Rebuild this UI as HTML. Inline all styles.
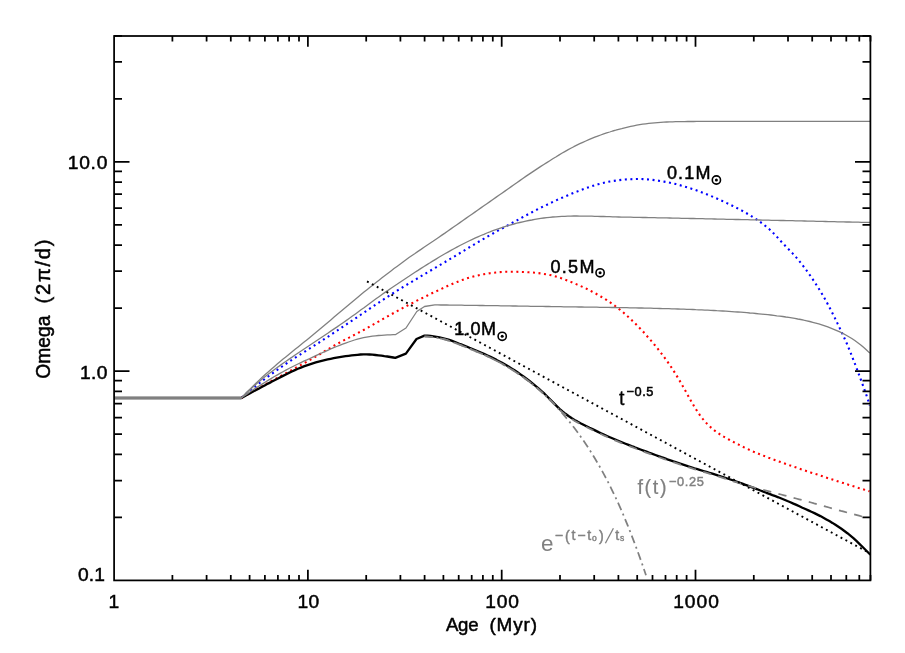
<!DOCTYPE html>
<html><head><meta charset="utf-8"><title>Omega vs Age</title>
<style>html,body{margin:0;padding:0;background:#fff;}svg{display:block;will-change:transform;}</style></head>
<body>
<svg width="905" height="653" viewBox="0 0 905 653" font-family="'Liberation Sans', sans-serif">
<rect width="905" height="653" fill="#fff"/>
<g fill="none" stroke-linejoin="round">
<path d="M114.1 398.0 L241.2 398.0 L244.2 395.5 L247.2 393.0 L250.2 390.5 L253.2 388.1 L256.2 385.7 L259.2 383.3 L262.2 381.0 L265.2 378.7 L268.2 376.5 L271.2 374.3 L274.2 372.1 L277.2 370.0 L280.2 367.8 L283.2 365.7 L286.2 363.7 L289.2 361.6 L292.2 359.6 L295.2 357.7 L298.2 355.8 L301.2 353.9 L304.2 352.0 L307.2 350.1 L310.2 348.2 L313.2 346.3 L316.2 344.4 L319.2 342.5 L322.1 340.5 L325.1 338.5 L328.1 336.6 L331.1 334.6 L334.1 332.6 L337.1 330.6 L340.1 328.6 L343.1 326.6 L346.1 324.6 L349.1 322.6 L352.1 320.6 L355.1 318.6 L358.1 316.6 L361.1 314.5 L364.1 312.5 L367.1 310.5 L370.1 308.4 L373.1 306.4 L376.1 304.4 L379.1 302.4 L382.1 300.4 L385.1 298.4 L388.1 296.5 L391.1 294.5 L394.1 292.6 L397.1 290.7 L400.1 288.9 L403.1 287.0 L406.1 285.2 L409.1 283.4 L412.1 281.6 L415.1 279.8 L418.1 278.0 L421.1 276.2 L424.1 274.4 L427.1 272.6 L430.1 270.8 L433.1 269.1 L436.1 267.3 L439.1 265.5 L442.1 263.7 L445.1 262.0 L448.1 260.2 L451.1 258.4 L454.1 256.6 L457.1 254.8 L460.1 253.0 L463.1 251.2 L466.1 249.4 L469.1 247.5 L472.1 245.7 L475.1 243.9 L478.0 242.2 L481.0 240.4 L484.0 238.7 L487.0 236.9 L490.0 235.2 L493.0 233.5 L496.0 231.8 L499.0 230.1 L502.0 228.5 L505.0 226.8 L508.0 225.2 L511.0 223.5 L514.0 221.9 L517.0 220.3 L520.0 218.6 L523.0 217.0 L526.0 215.4 L529.0 213.8 L532.0 212.2 L535.0 210.6 L538.0 209.1 L541.0 207.6 L544.0 206.1 L547.0 204.7 L550.0 203.2 L553.0 201.8 L556.0 200.4 L559.0 199.1 L562.0 197.8 L565.0 196.5 L568.0 195.2 L571.0 194.0 L574.0 192.7 L577.0 191.6 L580.0 190.4 L583.0 189.3 L586.0 188.2 L589.0 187.2 L592.0 186.2 L595.0 185.2 L598.0 184.3 L601.0 183.5 L604.0 182.8 L607.0 182.1 L610.0 181.5 L613.0 181.0 L616.0 180.6 L619.0 180.2 L622.0 179.8 L625.0 179.5 L628.0 179.3 L631.0 179.2 L634.0 179.1 L636.9 179.0 L639.9 179.0 L642.9 179.1 L645.9 179.3 L648.9 179.5 L651.9 179.8 L654.9 180.2 L657.9 180.6 L660.9 181.1 L663.9 181.6 L666.9 182.1 L669.9 182.7 L672.9 183.4 L675.9 184.1 L678.9 184.9 L681.9 185.7 L684.9 186.6 L687.9 187.5 L690.9 188.5 L693.9 189.5 L696.9 190.5 L699.9 191.6 L702.9 192.7 L705.9 193.9 L708.9 195.2 L711.9 196.4 L714.9 197.7 L717.9 199.0 L720.9 200.4 L723.9 201.7 L726.9 203.1 L729.9 204.5 L732.9 206.0 L735.9 207.5 L738.9 209.0 L741.9 210.6 L744.9 212.3 L747.9 214.0 L750.9 215.8 L753.9 217.7 L756.9 219.7 L759.9 221.8 L762.9 224.0 L765.9 226.3 L768.9 228.8 L771.9 231.6 L774.9 234.7 L777.9 237.9 L780.9 241.2 L783.9 244.4 L786.9 247.5 L789.9 250.5 L792.8 253.6 L795.8 256.9 L798.8 260.4 L801.8 264.2 L804.8 268.1 L807.8 272.2 L810.8 276.5 L813.8 280.9 L816.8 285.5 L819.8 290.2 L822.8 295.2 L825.8 300.5 L828.8 306.1 L831.8 311.9 L834.8 317.9 L837.8 324.1 L840.8 330.3 L843.8 336.8 L846.8 343.5 L849.8 350.7 L852.8 358.3 L855.8 366.1 L858.8 374.1 L861.8 382.3 L864.8 390.5 L867.8 399.3 L869.8 405.5" stroke="#0000ff" stroke-width="2.1" stroke-dasharray="2.0 3.55"/>
<path d="M114.1 398.0 L241.2 398.0 L244.2 396.3 L247.2 394.6 L250.2 392.9 L253.2 391.2 L256.2 389.5 L259.2 387.8 L262.2 386.2 L265.2 384.5 L268.2 382.9 L271.2 381.2 L274.2 379.6 L277.2 378.0 L280.2 376.4 L283.2 374.8 L286.1 373.1 L289.1 371.5 L292.1 369.8 L295.1 368.2 L298.1 366.5 L301.1 364.8 L304.1 363.2 L307.1 361.5 L310.1 359.8 L313.1 358.1 L316.1 356.3 L319.1 354.6 L322.1 352.8 L325.1 351.0 L328.1 349.2 L331.1 347.5 L334.1 345.7 L337.1 344.0 L340.1 342.3 L343.1 340.7 L346.1 339.1 L349.1 337.6 L352.1 336.0 L355.1 334.5 L358.1 332.9 L361.1 331.3 L364.1 329.7 L367.1 328.1 L370.1 326.4 L373.1 324.7 L376.0 323.0 L379.0 321.3 L382.0 319.6 L385.0 317.9 L388.0 316.2 L391.0 314.5 L394.0 312.8 L397.0 311.2 L400.0 309.5 L403.0 307.9 L406.0 306.3 L409.0 304.7 L412.0 303.2 L415.0 301.7 L418.0 300.1 L421.0 298.6 L424.0 297.2 L427.0 295.7 L430.0 294.2 L433.0 292.8 L436.0 291.4 L439.0 290.0 L442.0 288.6 L445.0 287.2 L448.0 285.8 L451.0 284.5 L454.0 283.2 L457.0 282.0 L460.0 280.8 L463.0 279.7 L465.9 278.7 L468.9 277.8 L471.9 276.9 L474.9 276.1 L477.9 275.4 L480.9 274.7 L483.9 274.2 L486.9 273.7 L489.9 273.2 L492.9 272.8 L495.9 272.5 L498.9 272.2 L501.9 272.0 L504.9 271.8 L507.9 271.8 L510.9 271.8 L513.9 271.8 L516.9 271.8 L519.9 271.9 L522.9 272.0 L525.9 272.1 L528.9 272.3 L531.9 272.5 L534.9 272.7 L537.9 273.1 L540.9 273.4 L543.9 273.9 L546.9 274.4 L549.9 275.0 L552.9 275.7 L555.8 276.5 L558.8 277.4 L561.8 278.4 L564.8 279.5 L567.8 280.7 L570.8 281.9 L573.8 283.1 L576.8 284.4 L579.8 285.7 L582.8 287.0 L585.8 288.4 L588.8 289.9 L591.8 291.5 L594.8 293.1 L597.8 294.7 L600.8 296.5 L603.8 298.3 L606.8 300.2 L609.8 302.2 L612.8 304.3 L615.8 306.5 L618.8 308.8 L621.8 311.2 L624.8 313.8 L627.8 316.5 L630.8 319.3 L633.8 322.1 L636.8 325.1 L639.8 328.2 L642.8 331.3 L645.7 334.6 L648.7 338.0 L651.7 341.4 L654.7 345.0 L657.7 348.7 L660.7 352.5 L663.7 356.5 L666.7 360.6 L669.7 364.9 L672.7 369.4 L675.7 374.1 L678.7 379.1 L681.7 384.2 L684.7 389.5 L687.7 395.0 L690.7 400.4 L693.7 405.6 L696.7 410.4 L699.7 414.9 L702.7 418.8 L705.7 422.4 L708.7 425.5 L711.7 428.2 L714.7 430.7 L717.7 432.9 L720.7 434.8 L723.7 436.7 L726.7 438.4 L729.7 440.0 L732.7 441.6 L735.6 443.1 L738.6 444.6 L741.6 446.2 L744.6 447.6 L747.6 449.0 L750.6 450.4 L753.6 451.7 L756.6 452.9 L759.6 454.2 L762.6 455.4 L765.6 456.5 L768.6 457.7 L771.6 458.8 L774.6 459.9 L777.6 461.0 L780.6 462.1 L783.6 463.1 L786.6 464.2 L789.6 465.3 L792.6 466.3 L795.6 467.3 L798.6 468.4 L801.6 469.4 L804.6 470.4 L807.6 471.4 L810.6 472.4 L813.6 473.4 L816.6 474.3 L819.6 475.3 L822.6 476.3 L825.5 477.3 L828.5 478.3 L831.5 479.2 L834.5 480.2 L837.5 481.2 L840.5 482.2 L843.5 483.1 L846.5 484.1 L849.5 485.0 L852.5 486.0 L855.5 486.9 L858.5 487.9 L861.5 488.8 L864.5 489.7 L867.5 490.7 L869.5 491.3" stroke="#ff0000" stroke-width="2.1" stroke-dasharray="2.0 3.55"/>
<path d="M114.1 398.0 L241.2 398.0 L244.2 396.4 L247.2 394.8 L250.1 393.2 L253.1 391.6 L256.1 390.0 L259.1 388.4 L262.1 386.8 L265.1 385.2 L268.0 383.6 L271.0 382.1 L274.0 380.5 L277.0 379.0 L280.0 377.4 L283.0 375.9 L285.9 374.4 L288.9 372.9 L291.9 371.5 L294.9 370.1 L297.9 368.8 L300.9 367.6 L303.8 366.4 L306.8 365.3 L309.8 364.3 L312.8 363.3 L315.8 362.4 L318.7 361.6 L321.7 360.8 L324.7 360.1 L327.7 359.4 L330.7 358.8 L333.7 358.2 L336.6 357.6 L339.6 357.1 L342.6 356.6 L345.6 356.2 L348.6 355.8 L351.6 355.4 L354.5 355.1 L357.5 354.8 L360.5 354.5 L363.5 354.4 L366.5 354.4 L369.5 354.5 L372.4 354.7 L375.4 355.0 L378.4 355.3 L381.4 355.6 L384.4 356.1 L387.3 356.5 L390.3 357.0 L393.3 357.5 L395.3 357.9 L405.9 353.6 L416.5 339.0 L424.5 335.6 L427.5 335.7 L430.5 336.0 L433.5 336.3 L436.5 336.8 L439.5 337.3 L442.5 338.0 L445.5 338.8 L448.5 339.7 L451.5 340.7 L454.5 341.8 L457.5 343.0 L460.5 344.2 L463.5 345.3 L466.5 346.5 L469.5 347.8 L472.5 349.0 L475.5 350.2 L478.5 351.5 L481.5 352.8 L484.5 354.1 L487.5 355.5 L490.5 356.9 L493.5 358.4 L496.5 359.9 L499.5 361.5 L502.5 363.1 L505.5 364.8 L508.5 366.6 L511.5 368.4 L514.5 370.3 L517.5 372.3 L520.5 374.4 L523.5 376.5 L526.5 378.7 L529.5 381.0 L532.5 383.4 L535.5 385.8 L538.5 388.3 L541.5 391.0 L544.5 393.7 L547.5 396.7 L550.5 399.8 L553.5 402.9 L556.5 405.9 L559.5 408.8 L562.5 411.4 L565.5 413.8 L568.5 416.0 L571.5 418.0 L574.5 419.9 L577.5 421.6 L580.5 423.2 L583.5 424.7 L586.5 426.2 L589.5 427.7 L592.5 429.1 L595.5 430.6 L598.5 432.1 L601.5 433.5 L604.5 434.9 L607.5 436.2 L610.5 437.5 L613.5 438.8 L616.5 440.1 L619.5 441.3 L622.5 442.5 L625.5 443.7 L628.5 444.9 L631.5 446.1 L634.5 447.2 L637.5 448.4 L640.5 449.5 L643.5 450.6 L646.5 451.7 L649.4 452.8 L652.4 453.9 L655.4 455.0 L658.4 456.1 L661.4 457.2 L664.4 458.2 L667.4 459.3 L670.4 460.3 L673.4 461.4 L676.4 462.4 L679.4 463.4 L682.4 464.4 L685.4 465.4 L688.4 466.4 L691.4 467.3 L694.4 468.3 L697.4 469.2 L700.4 470.1 L703.4 471.0 L706.4 471.9 L709.4 472.8 L712.4 473.7 L715.4 474.6 L718.4 475.6 L721.4 476.5 L724.4 477.5 L727.4 478.5 L730.4 479.5 L733.4 480.5 L736.4 481.6 L739.4 482.7 L742.4 483.7 L745.4 484.8 L748.4 485.9 L751.4 487.1 L754.4 488.2 L757.4 489.3 L760.4 490.5 L763.4 491.6 L766.4 492.8 L769.4 493.9 L772.4 495.1 L775.4 496.2 L778.4 497.3 L781.4 498.5 L784.4 499.7 L787.4 501.0 L790.4 502.2 L793.4 503.6 L796.4 504.9 L799.4 506.3 L802.4 507.7 L805.4 509.0 L808.4 510.4 L811.4 511.8 L814.4 513.1 L817.4 514.6 L820.4 516.1 L823.4 517.7 L826.4 519.4 L829.4 521.1 L832.4 522.9 L835.4 524.8 L838.4 526.8 L841.4 528.8 L844.4 531.0 L847.4 533.2 L850.4 535.6 L853.4 538.1 L856.4 540.9 L859.4 543.8 L862.4 546.8 L865.4 549.8 L868.4 552.8 L870.4 554.8" stroke="#000" stroke-width="2.3"/>
<path d="M424.5 336.5 L427.5 336.6 L430.5 336.8 L433.5 337.2 L436.5 337.7 L439.5 338.2 L442.5 338.9 L445.5 339.7 L448.5 340.6 L451.5 341.6 L454.5 342.7 L457.5 343.9 L460.5 345.0 L463.5 346.2 L466.5 347.4 L469.4 348.6 L472.4 349.9 L475.4 351.1 L478.4 352.4 L481.4 353.7 L484.4 355.0 L487.4 356.4 L490.4 357.8 L493.4 359.2 L496.4 360.8 L499.4 362.3 L502.4 364.0 L505.4 365.7 L508.4 367.4 L511.4 369.3 L514.4 371.2 L517.4 373.2 L520.4 375.2 L523.4 377.4 L526.4 379.6 L529.4 381.8 L532.4 384.2 L535.4 386.6 L538.4 389.1 L541.4 391.8 L544.4 394.5 L547.4 397.5 L550.4 400.5 L553.4 403.7 L556.4 406.7 L559.3 409.6 L562.3 412.2 L565.3 414.6 L568.3 416.8 L571.3 418.8 L574.3 420.7 L577.3 422.4 L580.3 424.0 L583.3 425.5 L586.3 427.0 L589.3 428.5 L592.3 430.0 L595.3 431.4 L598.3 432.9 L601.3 434.3 L604.3 435.7 L607.3 437.0 L610.3 438.4 L613.3 439.7 L616.3 440.9 L619.3 442.1 L622.3 443.4 L625.3 444.6 L628.3 445.7 L631.3 446.9 L634.3 448.0 L637.3 449.2 L640.3 450.3 L643.3 451.4 L646.2 452.6 L649.2 453.7 L652.2 454.8 L655.2 455.9 L658.2 456.9 L661.2 458.0 L664.2 459.1 L667.2 460.1 L670.2 461.1 L673.2 462.2 L676.2 463.2 L679.2 464.2 L682.2 465.2 L685.2 466.2 L688.2 467.2 L691.2 468.1 L694.2 469.1 L697.2 470.0 L700.2 470.9 L703.2 471.8 L706.2 472.7 L709.2 473.6 L712.2 474.5 L715.2 475.5 L718.2 476.4 L721.2 477.3 L724.2 478.3 L727.2 479.3 L730.2 480.3 L733.2 481.3 L736.1 482.2 L739.1 483.2 L742.1 484.1 L745.1 485.0 L748.1 485.9 L751.1 486.7 L754.1 487.5 L757.1 488.3 L760.1 489.1 L763.1 489.9 L766.1 490.6 L769.1 491.4 L772.1 492.2 L775.1 493.0 L778.1 493.7 L781.1 494.5 L784.1 495.3 L787.1 496.1 L790.1 496.9 L793.1 497.7 L796.1 498.5 L799.1 499.3 L802.1 500.1 L805.1 500.9 L808.1 501.7 L811.1 502.5 L814.1 503.4 L817.1 504.2 L820.1 505.0 L823.0 505.8 L826.0 506.7 L829.0 507.5 L832.0 508.3 L835.0 509.2 L838.0 510.0 L841.0 510.9 L844.0 511.7 L847.0 512.5 L850.0 513.3 L853.0 514.1 L856.0 514.9 L859.0 515.7 L862.0 516.5 L865.0 517.3 L866.0 517.6" stroke="#808080" stroke-width="1.8" stroke-dasharray="8.3 7.4"/>
<path d="M424.5 336.5 L427.5 336.6 L430.5 336.8 L433.5 337.2 L436.5 337.7 L439.5 338.2 L442.5 338.9 L445.5 339.7 L448.4 340.6 L451.4 341.6 L454.4 342.7 L457.4 343.8 L460.4 345.0 L463.4 346.2 L466.4 347.4 L469.4 348.6 L472.4 349.8 L475.4 351.1 L478.4 352.4 L481.4 353.6 L484.4 355.0 L487.4 356.3 L490.4 357.7 L493.3 359.2 L496.3 360.7 L499.3 362.3 L502.3 363.9 L505.3 365.6 L508.3 367.4 L511.3 369.2 L514.3 371.1 L517.3 373.1 L520.3 375.1 L523.3 377.3 L526.3 379.5 L529.3 381.8 L532.3 384.1 L535.2 386.5 L538.2 389.0 L541.2 391.6 L544.2 394.4 L547.2 397.2 L550.2 400.2 L553.2 403.2 L556.2 406.4 L559.2 409.7 L562.2 413.1 L565.2 416.6 L568.2 420.2 L571.2 423.9 L574.2 427.7 L577.2 431.7 L580.1 435.8 L583.1 440.1 L586.1 444.5 L589.1 449.1 L592.1 453.8 L595.1 458.8 L598.1 463.9 L601.1 469.1 L604.1 474.6 L607.1 480.3 L610.1 486.2 L613.1 492.3 L616.1 498.6 L619.1 505.1 L622.1 511.9 L625.0 518.9 L628.0 526.2 L631.0 533.8 L634.0 541.6 L637.0 549.6 L640.0 557.9 L643.0 566.4 L646.0 575.3" stroke="#808080" stroke-width="1.75" stroke-dasharray="8.1 3.85 2 3.85"/>
<path d="M114.1 398.0 L241.2 398.0 L244.2 394.9 L247.2 391.8 L250.2 388.9 L253.2 385.9 L256.2 383.0 L259.2 380.1 L262.2 377.3 L265.2 374.6 L268.2 371.9 L271.2 369.3 L274.2 366.7 L277.2 364.1 L280.2 361.6 L283.1 359.1 L286.1 356.7 L289.1 354.2 L292.1 351.8 L295.1 349.3 L298.1 346.9 L301.1 344.5 L304.1 342.1 L307.1 339.7 L310.1 337.2 L313.1 334.8 L316.1 332.3 L319.1 329.8 L322.1 327.3 L325.1 324.7 L328.1 322.2 L331.1 319.7 L334.1 317.1 L337.1 314.6 L340.1 312.1 L343.1 309.6 L346.1 307.1 L349.1 304.5 L352.1 302.0 L355.1 299.6 L358.1 297.1 L361.0 294.6 L364.0 292.1 L367.0 289.7 L370.0 287.3 L373.0 284.9 L376.0 282.5 L379.0 280.2 L382.0 277.8 L385.0 275.5 L388.0 273.2 L391.0 270.9 L394.0 268.6 L397.0 266.4 L400.0 264.2 L403.0 262.0 L406.0 259.8 L409.0 257.6 L412.0 255.5 L415.0 253.5 L418.0 251.4 L421.0 249.4 L424.0 247.3 L427.0 245.3 L430.0 243.3 L433.0 241.3 L436.0 239.2 L438.9 237.2 L441.9 235.1 L444.9 233.1 L447.9 231.0 L450.9 228.9 L453.9 226.8 L456.9 224.7 L459.9 222.6 L462.9 220.5 L465.9 218.4 L468.9 216.3 L471.9 214.2 L474.9 212.1 L477.9 210.0 L480.9 207.9 L483.9 205.8 L486.9 203.7 L489.9 201.6 L492.9 199.5 L495.9 197.4 L498.9 195.3 L501.9 193.2 L504.9 191.1 L507.9 189.0 L510.9 186.9 L513.9 184.8 L516.8 182.7 L519.8 180.6 L522.8 178.5 L525.8 176.4 L528.8 174.4 L531.8 172.4 L534.8 170.4 L537.8 168.4 L540.8 166.4 L543.8 164.5 L546.8 162.6 L549.8 160.7 L552.8 158.8 L555.8 157.0 L558.8 155.1 L561.8 153.3 L564.8 151.6 L567.8 149.9 L570.8 148.3 L573.8 146.7 L576.8 145.2 L579.8 143.7 L582.8 142.3 L585.8 141.0 L588.8 139.7 L591.8 138.4 L594.8 137.2 L597.7 136.1 L600.7 135.0 L603.7 133.9 L606.7 132.9 L609.7 132.0 L612.7 131.0 L615.7 130.2 L618.7 129.3 L621.7 128.6 L624.7 127.8 L627.7 127.1 L630.7 126.4 L633.7 125.8 L636.7 125.2 L639.7 124.7 L642.7 124.2 L645.7 123.8 L648.7 123.4 L651.7 123.1 L654.7 122.8 L657.7 122.6 L660.7 122.4 L663.7 122.2 L666.7 122.0 L669.7 121.9 L672.7 121.8 L675.6 121.7 L678.6 121.7 L681.6 121.6 L684.6 121.6 L687.6 121.5 L690.6 121.5 L693.6 121.5 L696.6 121.4 L699.6 121.4 L702.6 121.4 L705.6 121.4 L708.6 121.3 L711.6 121.3 L714.6 121.3 L717.6 121.3 L720.6 121.3 L723.6 121.3 L726.6 121.3 L729.6 121.3 L732.6 121.3 L735.6 121.3 L738.6 121.3 L741.6 121.3 L744.6 121.3 L747.6 121.3 L750.6 121.3 L753.5 121.3 L756.5 121.3 L759.5 121.3 L762.5 121.3 L765.5 121.3 L768.5 121.3 L771.5 121.3 L774.5 121.3 L777.5 121.3 L780.5 121.3 L783.5 121.3 L786.5 121.3 L789.5 121.3 L792.5 121.3 L795.5 121.3 L798.5 121.3 L801.5 121.3 L804.5 121.3 L807.5 121.3 L810.5 121.3 L813.5 121.3 L816.5 121.3 L819.5 121.3 L822.5 121.3 L825.5 121.3 L828.5 121.3 L831.4 121.3 L834.4 121.3 L837.4 121.3 L840.4 121.3 L843.4 121.3 L846.4 121.3 L849.4 121.3 L852.4 121.3 L855.4 121.3 L858.4 121.3 L861.4 121.3 L864.4 121.3 L867.4 121.3 L870.4 121.3" stroke="#808080" stroke-width="1.3"/>
<path d="M241.2 398.0 L244.2 395.1 L247.2 392.3 L250.2 389.5 L253.2 386.8 L256.2 384.1 L259.2 381.5 L262.2 379.0 L265.2 376.6 L268.2 374.2 L271.2 371.9 L274.2 369.7 L277.2 367.5 L280.2 365.4 L283.1 363.3 L286.1 361.2 L289.1 359.1 L292.1 357.1 L295.1 355.0 L298.1 353.0 L301.1 351.0 L304.1 349.0 L307.1 347.0 L310.1 345.0 L313.1 343.0 L316.1 341.0 L319.1 339.0 L322.1 337.0 L325.1 335.0 L328.1 333.0 L331.1 330.9 L334.1 328.9 L337.1 326.9 L340.1 324.8 L343.1 322.7 L346.1 320.6 L349.1 318.5 L352.1 316.3 L355.1 314.2 L358.1 312.0 L361.0 309.8 L364.0 307.7 L367.0 305.4 L370.0 303.2 L373.0 301.0 L376.0 298.8 L379.0 296.7 L382.0 294.5 L385.0 292.4 L388.0 290.4 L391.0 288.3 L394.0 286.3 L397.0 284.3 L400.0 282.2 L403.0 280.2 L406.0 278.2 L409.0 276.3 L412.0 274.3 L415.0 272.3 L418.0 270.4 L421.0 268.4 L424.0 266.5 L427.0 264.6 L430.0 262.8 L433.0 260.9 L436.0 259.1 L438.9 257.3 L441.9 255.5 L444.9 253.8 L447.9 252.1 L450.9 250.4 L453.9 248.7 L456.9 247.1 L459.9 245.5 L462.9 244.0 L465.9 242.5 L468.9 241.0 L471.9 239.6 L474.9 238.2 L477.9 236.8 L480.9 235.5 L483.9 234.3 L486.9 233.0 L489.9 231.9 L492.9 230.7 L495.9 229.6 L498.9 228.6 L501.9 227.6 L504.9 226.6 L507.9 225.7 L510.9 224.8 L513.9 224.0 L516.8 223.2 L519.8 222.5 L522.8 221.8 L525.8 221.1 L528.8 220.5 L531.8 220.0 L534.8 219.4 L537.8 218.9 L540.8 218.4 L543.8 218.0 L546.8 217.6 L549.8 217.3 L552.8 217.0 L555.8 216.8 L558.8 216.6 L561.8 216.4 L564.8 216.3 L567.8 216.1 L570.8 216.1 L573.8 216.0 L576.8 216.0 L579.8 216.1 L582.8 216.1 L585.8 216.1 L588.8 216.2 L591.8 216.2 L594.8 216.3 L597.7 216.4 L600.7 216.5 L603.7 216.5 L606.7 216.6 L609.7 216.7 L612.7 216.8 L615.7 216.9 L618.7 217.0 L621.7 217.1 L624.7 217.1 L627.7 217.2 L630.7 217.2 L633.7 217.3 L636.7 217.3 L639.7 217.4 L642.7 217.5 L645.7 217.5 L648.7 217.6 L651.7 217.6 L654.7 217.7 L657.7 217.8 L660.7 217.8 L663.7 217.9 L666.7 217.9 L669.7 218.0 L672.7 218.1 L675.6 218.1 L678.6 218.2 L681.6 218.3 L684.6 218.3 L687.6 218.4 L690.6 218.5 L693.6 218.5 L696.6 218.6 L699.6 218.7 L702.6 218.7 L705.6 218.8 L708.6 218.9 L711.6 218.9 L714.6 219.0 L717.6 219.1 L720.6 219.1 L723.6 219.2 L726.6 219.3 L729.6 219.3 L732.6 219.4 L735.6 219.5 L738.6 219.5 L741.6 219.6 L744.6 219.7 L747.6 219.7 L750.6 219.8 L753.5 219.9 L756.5 219.9 L759.5 220.0 L762.5 220.1 L765.5 220.1 L768.5 220.2 L771.5 220.3 L774.5 220.3 L777.5 220.4 L780.5 220.5 L783.5 220.5 L786.5 220.6 L789.5 220.7 L792.5 220.7 L795.5 220.8 L798.5 220.9 L801.5 220.9 L804.5 221.0 L807.5 221.1 L810.5 221.1 L813.5 221.2 L816.5 221.3 L819.5 221.3 L822.5 221.4 L825.5 221.5 L828.5 221.6 L831.4 221.6 L834.4 221.7 L837.4 221.8 L840.4 221.8 L843.4 221.9 L846.4 222.0 L849.4 222.0 L852.4 222.1 L855.4 222.2 L858.4 222.2 L861.4 222.3 L864.4 222.4 L867.4 222.4 L870.4 222.5" stroke="#808080" stroke-width="1.3"/>
<path d="M241.2 398.0 L244.2 395.9 L247.2 393.9 L250.1 391.8 L253.1 389.8 L256.1 387.9 L259.1 386.0 L262.1 384.1 L265.1 382.2 L268.0 380.4 L271.0 378.6 L274.0 376.8 L277.0 375.1 L280.0 373.4 L283.0 371.7 L285.9 370.1 L288.9 368.5 L291.9 367.0 L294.9 365.5 L297.9 364.0 L300.9 362.6 L303.8 361.2 L306.8 359.9 L309.8 358.5 L312.8 357.1 L315.8 355.7 L318.7 354.4 L321.7 353.0 L324.7 351.6 L327.7 350.3 L330.7 349.0 L333.7 347.7 L336.6 346.5 L339.6 345.3 L342.6 344.2 L345.6 343.1 L348.6 342.0 L351.6 341.0 L354.5 340.0 L357.5 339.1 L360.5 338.4 L363.5 337.7 L366.5 337.1 L369.5 336.6 L372.4 336.1 L375.4 335.8 L378.4 335.5 L381.4 335.3 L384.4 335.1 L387.3 334.9 L390.3 334.8 L393.3 334.7 L395.3 334.7 L406.0 328.0 L416.8 311.5 L424.5 306.5 L434.8 304.9 L437.8 304.9 L440.8 305.0 L443.8 305.0 L446.8 305.0 L449.8 305.1 L452.8 305.1 L455.8 305.1 L458.8 305.2 L461.8 305.2 L464.8 305.3 L467.8 305.3 L470.8 305.3 L473.8 305.4 L476.8 305.4 L479.8 305.5 L482.8 305.5 L485.8 305.6 L488.8 305.6 L491.8 305.7 L494.8 305.7 L497.8 305.7 L500.8 305.8 L503.8 305.8 L506.8 305.9 L509.8 305.9 L512.8 306.0 L515.8 306.0 L518.8 306.1 L521.8 306.1 L524.8 306.2 L527.8 306.2 L530.8 306.3 L533.8 306.3 L536.8 306.4 L539.8 306.4 L542.8 306.4 L545.8 306.5 L548.8 306.5 L551.8 306.6 L554.8 306.6 L557.8 306.7 L560.8 306.7 L563.8 306.8 L566.8 306.8 L569.8 306.8 L572.8 306.9 L575.8 306.9 L578.8 307.0 L581.8 307.0 L584.8 307.1 L587.8 307.1 L590.8 307.1 L593.8 307.2 L596.8 307.2 L599.8 307.3 L602.8 307.3 L605.8 307.4 L608.8 307.4 L611.8 307.5 L614.8 307.5 L617.8 307.6 L620.8 307.6 L623.8 307.7 L626.8 307.7 L629.8 307.8 L632.8 307.9 L635.8 307.9 L638.8 308.0 L641.8 308.0 L644.8 308.1 L647.8 308.2 L650.8 308.2 L653.8 308.3 L656.8 308.4 L659.8 308.5 L662.8 308.6 L665.8 308.6 L668.8 308.7 L671.8 308.8 L674.8 308.9 L677.8 309.0 L680.8 309.1 L683.8 309.2 L686.8 309.3 L689.8 309.4 L692.8 309.5 L695.8 309.7 L698.8 309.8 L701.8 309.9 L704.8 310.1 L707.8 310.2 L710.8 310.4 L713.8 310.5 L716.8 310.7 L719.8 310.8 L722.8 311.0 L725.8 311.2 L728.8 311.4 L731.8 311.6 L734.8 311.8 L737.8 312.0 L740.8 312.2 L743.8 312.4 L746.8 312.7 L749.8 313.0 L752.8 313.2 L755.8 313.5 L758.8 313.8 L761.8 314.1 L764.8 314.4 L767.8 314.7 L770.8 315.0 L773.8 315.4 L776.8 315.8 L779.8 316.1 L782.8 316.5 L785.8 317.0 L788.8 317.4 L791.8 317.9 L794.8 318.4 L797.8 319.0 L800.8 319.5 L803.8 320.2 L806.8 320.8 L809.8 321.5 L812.8 322.3 L815.8 323.1 L818.8 323.9 L821.8 324.8 L824.8 325.8 L827.8 326.9 L830.8 328.1 L833.8 329.3 L836.8 330.6 L839.8 331.9 L842.8 333.4 L845.8 335.0 L848.8 336.7 L851.8 338.5 L854.8 340.5 L857.8 342.7 L860.8 345.0 L863.8 347.5 L866.8 350.2 L869.8 353.1" stroke="#808080" stroke-width="1.3"/>
<path d="M114.1 398.0H241.7" stroke="#808080" stroke-width="2.3"/>
<path d="M367.0 281.4 L870.4 553.5" stroke="#000" stroke-width="1.9" stroke-dasharray="1.9 3.65"/>
</g>
<path d="M172.4 580.4v-5.4M172.4 36.0v5.4M206.6 580.4v-5.4M206.6 36.0v5.4M230.8 580.4v-5.4M230.8 36.0v5.4M249.6 580.4v-5.4M249.6 36.0v5.4M264.9 580.4v-5.4M264.9 36.0v5.4M277.9 580.4v-5.4M277.9 36.0v5.4M289.1 580.4v-5.4M289.1 36.0v5.4M299.0 580.4v-5.4M299.0 36.0v5.4M307.9 580.4v-10.7M307.9 36.0v10.7M366.2 580.4v-5.4M366.2 36.0v5.4M400.4 580.4v-5.4M400.4 36.0v5.4M424.6 580.4v-5.4M424.6 36.0v5.4M443.4 580.4v-5.4M443.4 36.0v5.4M458.7 580.4v-5.4M458.7 36.0v5.4M471.7 580.4v-5.4M471.7 36.0v5.4M482.9 580.4v-5.4M482.9 36.0v5.4M492.8 580.4v-5.4M492.8 36.0v5.4M501.7 580.4v-10.7M501.7 36.0v10.7M560.0 580.4v-5.4M560.0 36.0v5.4M594.2 580.4v-5.4M594.2 36.0v5.4M618.4 580.4v-5.4M618.4 36.0v5.4M637.2 580.4v-5.4M637.2 36.0v5.4M652.5 580.4v-5.4M652.5 36.0v5.4M665.5 580.4v-5.4M665.5 36.0v5.4M676.7 580.4v-5.4M676.7 36.0v5.4M686.6 580.4v-5.4M686.6 36.0v5.4M695.5 580.4v-10.7M695.5 36.0v10.7M753.8 580.4v-5.4M753.8 36.0v5.4M788.0 580.4v-5.4M788.0 36.0v5.4M812.2 580.4v-5.4M812.2 36.0v5.4M831.0 580.4v-5.4M831.0 36.0v5.4M846.3 580.4v-5.4M846.3 36.0v5.4M859.3 580.4v-5.4M859.3 36.0v5.4M870.5 580.4v-5.4M870.5 36.0v5.4M114.1 517.4h7.9M870.4 517.4h-7.9M114.1 480.5h7.9M870.4 480.5h-7.9M114.1 454.4h7.9M870.4 454.4h-7.9M114.1 434.1h7.9M870.4 434.1h-7.9M114.1 417.5h7.9M870.4 417.5h-7.9M114.1 403.5h7.9M870.4 403.5h-7.9M114.1 391.4h7.9M870.4 391.4h-7.9M114.1 380.7h7.9M870.4 380.7h-7.9M114.1 371.1h15.4M870.4 371.1h-15.4M114.1 308.1h7.9M870.4 308.1h-7.9M114.1 271.2h7.9M870.4 271.2h-7.9M114.1 245.1h7.9M870.4 245.1h-7.9M114.1 224.8h7.9M870.4 224.8h-7.9M114.1 208.2h7.9M870.4 208.2h-7.9M114.1 194.2h7.9M870.4 194.2h-7.9M114.1 182.1h7.9M870.4 182.1h-7.9M114.1 171.4h7.9M870.4 171.4h-7.9M114.1 161.8h15.4M870.4 161.8h-15.4M114.1 98.8h7.9M870.4 98.8h-7.9M114.1 61.9h7.9M870.4 61.9h-7.9M114.1 35.8h7.9M870.4 35.8h-7.9" fill="none" stroke="#000" stroke-width="1.75"/>
<rect x="114.1" y="36.0" width="756.3" height="544.4" fill="none" stroke="#000" stroke-width="1.75"/>
<text x="107.3" y="168.8" font-size="19.2" text-anchor="end" fill="#000" textLength="39.5" lengthAdjust="spacing" stroke="#000" stroke-width="0.5">10.0</text>
<text x="107.3" y="378.7" font-size="19.2" text-anchor="end" fill="#000" textLength="27.3" lengthAdjust="spacing" stroke="#000" stroke-width="0.5">1.0</text>
<text x="104.9" y="581.1" font-size="19.2" text-anchor="end" fill="#000" textLength="27.0" lengthAdjust="spacing" stroke="#000" stroke-width="0.5">0.1</text>
<text x="113.9" y="608.0" font-size="19.2" text-anchor="middle" fill="#000" stroke="#000" stroke-width="0.5">1</text>
<text x="308.3" y="608.0" font-size="19.2" text-anchor="middle" fill="#000" textLength="21.6" lengthAdjust="spacing" stroke="#000" stroke-width="0.5">10</text>
<text x="502.1" y="608.0" font-size="19.2" text-anchor="middle" fill="#000" textLength="33.6" lengthAdjust="spacing" stroke="#000" stroke-width="0.5">100</text>
<text x="696.0" y="608.0" font-size="19.2" text-anchor="middle" fill="#000" textLength="45.6" lengthAdjust="spacing" stroke="#000" stroke-width="0.5">1000</text>
<text x="445.9" y="630.9" font-size="18.6" text-anchor="start" fill="#000" textLength="32.6" lengthAdjust="spacing" stroke="#000" stroke-width="0.5">Age</text>
<text x="489.4" y="630.9" font-size="18.9" text-anchor="start" fill="#000" textLength="47.6" lengthAdjust="spacing" stroke="#000" stroke-width="0.5">(Myr)</text>
<g transform="translate(50.3 378.8) rotate(-90)">
<text x="0.0" y="0.0" font-size="20.2" text-anchor="start" fill="#000" textLength="63.2" lengthAdjust="spacingAndGlyphs" stroke="#000" stroke-width="0.5">Omega</text>
<text x="75.4" y="0.0" font-size="20.2" text-anchor="start" fill="#000" textLength="63.8" lengthAdjust="spacing" stroke="#000" stroke-width="0.5">(2π/d)</text>
</g>
<text x="666.9" y="179.2" font-size="18.0" text-anchor="start" fill="#000" textLength="43.5" lengthAdjust="spacing" stroke="#000" stroke-width="0.5">0.1M</text>
<circle cx="716.4" cy="180.0" r="4.1" fill="none" stroke="#000" stroke-width="1.6"/><circle cx="716.4" cy="180.0" r="1.5" fill="#000"/>
<text x="550.5" y="272.5" font-size="18.0" text-anchor="start" fill="#000" textLength="43.9" lengthAdjust="spacing" stroke="#000" stroke-width="0.5">0.5M</text>
<circle cx="600.1" cy="272.8" r="4.1" fill="none" stroke="#000" stroke-width="1.6"/><circle cx="600.1" cy="272.8" r="1.5" fill="#000"/>
<text x="454.3" y="335.4" font-size="18.0" text-anchor="start" fill="#000" textLength="41.8" lengthAdjust="spacing" stroke="#000" stroke-width="0.5">1.0M</text>
<circle cx="502.2" cy="336.3" r="4.1" fill="none" stroke="#000" stroke-width="1.6"/><circle cx="502.2" cy="336.3" r="1.5" fill="#000"/>
<text x="619.0" y="405.4" font-size="19.6" text-anchor="start" fill="#000" stroke="#000" stroke-width="0.3">t</text>
<text x="626.4" y="396.2" font-size="12.8" text-anchor="start" fill="#000" textLength="27.0" lengthAdjust="spacing" stroke="#000" stroke-width="0.5">−0.5</text>
<text x="637.4" y="493.8" font-size="19.8" text-anchor="start" fill="#808080" textLength="29.2" lengthAdjust="spacing" stroke="#808080" stroke-width="0.2">f(t)</text>
<text x="669.0" y="485.9" font-size="12.8" text-anchor="start" fill="#808080" textLength="34.8" lengthAdjust="spacing" stroke="#808080" stroke-width="0.45">−0.25</text>
<text x="540.9" y="550.7" font-size="22.5" text-anchor="start" fill="#808080">e</text>
<g fill="#808080" stroke="#808080" stroke-width="0.40" text-anchor="middle"><text x="558.9" y="539.9" font-size="14.2">−</text><text x="567.4" y="540.5" font-size="14.2">(</text><text x="573.5" y="539.9" font-size="14.2">t</text><text x="581.4" y="539.9" font-size="14.2">−</text><text x="589.3" y="539.9" font-size="14.2">t</text><text x="594.4" y="541.3" font-size="8.5">o</text><text x="601.4" y="540.5" font-size="14.2">)</text><text x="617.2" y="539.9" font-size="14.2">t</text><text x="622.1" y="541.3" font-size="8.5">s</text></g>
<path d="M605.4 543.2L613.4 528.3" stroke="#808080" stroke-width="1.3" fill="none"/>
</svg>
</body></html>
